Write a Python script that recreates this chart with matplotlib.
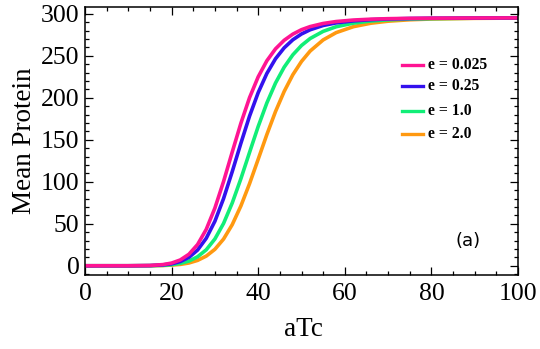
import matplotlib
matplotlib.use("Agg")
import matplotlib.pyplot as plt
from matplotlib.ticker import MultipleLocator

# aTc values (x)
atc = [0, 10, 15, 18, 20, 22, 24, 26, 28, 30, 32, 34, 36, 38, 40, 42, 44, 46,
       48, 50, 52, 55, 58, 62, 66, 70, 75, 80, 90, 100]

# Mean protein for each e value
e_0025 = [0.0, 0.0, 0.3, 1.4, 3.2, 6.9, 13.7, 25.3, 43.3, 68.7, 100.3, 135.3,
          169.6, 200.1, 224.9, 244.0, 258.2, 268.4, 275.7, 281.0, 284.7, 288.4,
          290.7, 292.5, 293.5, 294.1, 294.5, 294.7, 294.9, 295.0]
e_025 = [0.0, 0.0, 0.2, 1.0, 2.3, 5.0, 10.0, 18.7, 32.7, 53.0, 80.0, 112.0,
         145.8, 178.1, 206.1, 228.9, 246.4, 259.4, 269.0, 275.9, 280.9, 286.0,
         289.1, 291.5, 292.9, 293.7, 294.3, 294.6, 294.8, 295.0]
e_1 = [0.0, 0.0, 0.1, 0.5, 1.3, 2.8, 5.6, 10.7, 19.0, 31.9, 50.4, 74.7,
       103.6, 134.9, 165.8, 193.8, 217.5, 236.4, 251.1, 262.2, 270.5, 279.0,
       284.5, 288.8, 291.3, 292.7, 293.7, 294.2, 294.7, 294.9]
e_2 = [0.0, 0.0, 0.1, 0.3, 0.8, 1.6, 3.3, 6.4, 11.5, 19.6, 31.8, 48.9,
       71.2, 97.7, 126.8, 156.2, 183.6, 207.5, 227.4, 243.2, 255.6, 268.8,
       277.5, 284.6, 288.7, 291.1, 292.8, 293.7, 294.5, 294.8]

labels = ["e = 0.025", "e = 0.25", "e = 1.0", "e = 2.0"]
colors = ["#FF1493", "#3311EE", "#11EE77", "#FF9910"]
series = [e_0025, e_025, e_1, e_2]

serif = ["Liberation Serif", "DejaVu Serif"]

fig = plt.figure(figsize=(5.4, 3.49), dpi=100)
ax = fig.add_axes([85 / 540, 1 - 275 / 349, (518 - 85) / 540, (275 - 7) / 349])

# draw in reverse so pink is on top
for ys, c in reversed(list(zip(series, colors))):
    ax.plot(atc, ys, color=c, lw=2.6, solid_capstyle="butt",
            solid_joinstyle="round", clip_on=True)

ax.set_xlim(0, 100)
ax.set_ylim(-11, 308)
ax.xaxis.set_major_locator(MultipleLocator(20))
ax.xaxis.set_minor_locator(MultipleLocator(5))
ax.yaxis.set_major_locator(MultipleLocator(50))
ax.yaxis.set_minor_locator(MultipleLocator(10))
ax.tick_params(which="both", direction="in", top=True, right=True,
               width=0.9, colors="black")
ax.tick_params(which="major", length=5.5)
ax.tick_params(which="minor", length=3)
ax.tick_params(axis="x", which="major", pad=6)
ax.tick_params(axis="y", which="major", pad=4)
for lab in ax.get_xticklabels() + ax.get_yticklabels():
    lab.set_fontfamily(serif)
    lab.set_fontsize(18.5)
for sp in ax.spines.values():
    sp.set_linewidth(1.1)

ax.set_xlabel("aTc", fontfamily=serif, fontsize=19.5)
ax.set_ylabel("Mean Protein", fontfamily=serif, fontsize=19.5)
ax.xaxis.set_label_coords((303 - 85) / 433, (275 - 317) / 268)
ax.yaxis.set_label_coords((37 - 85) / 433, 0.5)

# custom legend (uneven spacing as in original)
leg_y = [65, 86, 111, 134]
for yp, c, lab in zip(leg_y, colors, labels):
    yf = 1 - yp / 349
    fig.add_artist(plt.Line2D([402 / 540, 423 / 540], [yf, yf], color=c,
                              lw=2.4, transform=fig.transFigure))
    fig.text(428 / 540, yf, lab, fontfamily=serif, fontweight="bold",
             fontsize=11.3, va="center", ha="left")

fig.text(468 / 540, 1 - 241 / 349, "(a)", fontfamily="DejaVu Sans",
         fontsize=13, va="center", ha="center")

fig.savefig("out.png", dpi=100)
